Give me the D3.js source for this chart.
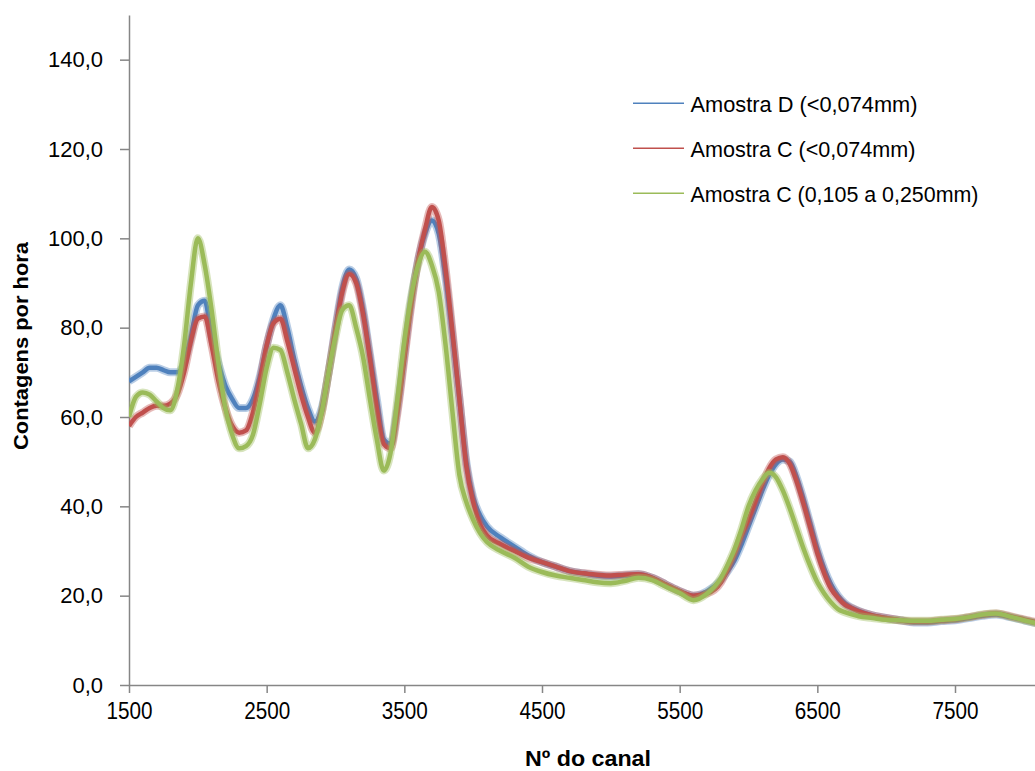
<!DOCTYPE html>
<html>
<head>
<meta charset="utf-8">
<script src="https://cdn.jsdelivr.net/npm/d3@7"></script>
<style>
  html, body { margin: 0; padding: 0; background: #fff; }
  svg { display: block; }
</style>
</head>
<body>
<div id="chart"></div>
<script>
// ---- Data ----
const channels = [
  1500,1550,1600,1650,1700,1750,1800,1850,1900,1950,
  2000,2050,2100,2150,2200,2250,2300,2350,2400,2450,
  2500,2550,2600,2650,2700,2750,2800,2850,2900,2950,
  3000,3050,3100,3150,3200,3250,3300,3350,3400,3450,
  3500,3550,3600,3650,3700,3750,3800,3850,3900,3950,
  4000,4050,4100,
  4200,4300,4400,4500,4600,4700,4800,4900,5000,5100,
  5200,5300,5400,5500,5600,5700,5800,
  5850,5900,5950,6000,6050,6100,6150,6200,6250,6300,
  6350,6400,6450,6500,6550,6600,6650,6700,6750,6800,
  6900,7000,7100,7200,7300,7400,7500,7600,7700,7800,
  7900,8000,8100,8200
];

const amostraD = [
  68,69,70,71,71,70.5,70,70,72,78,
  85,86,78,72,67,64,62,62,64,69,
  76,82,85,80,73,67,62,59,62,70,
  80,89,93,91,84,74,64,55,54,62,
  74,86,95,101,104,101,91,78,64,50,
  42,38,35.5,
  33,31,29,27.5,26.5,25.5,25,24.5,24.3,24.5,
  24.8,24,22.5,21,20,21,23.5,
  25.5,28,31.5,35.5,39.5,43.5,47,49.5,50.5,50,
  46.5,41.5,36,30.5,26,22.5,20,18.3,17.3,16.6,
  15.6,15,14.5,14,14,14.3,14.5,15,15.5,15.8,
  15.2,14.5,13.8,13.3
];

const amostraC = [
  58,60,61,62,62.5,62.5,63,65,70,77,
  82,82.5,76,68,62,58,56.5,57,61,68,
  76,81,82,77,71,65,60,56.5,61,70,
  79.5,88,92,90,83,73,62,54,53,61,
  73,85,95,102,107,104,93,79,64,49,
  41,36,33.5,
  31.5,30,28.5,27.5,26.5,25.5,25,24.7,24.5,24.7,
  24.8,24,22.5,21,20,20.5,23,
  26,29.5,33.5,37,41,45,48.5,50.5,51,49.5,
  45.5,40.5,35,29.5,25,21.5,19.5,18,17.2,16.5,
  15.6,15,14.5,14.2,14.2,14.5,14.7,15.2,15.7,16,
  15.4,14.7,14,13.5
];

const amostraCGrossa = [
  60,64.5,65.5,65,63.5,62,61.5,66,76,90,
  100,94,84,72,62,56,53,53.5,56,63,
  71,75.5,75,70,64,58.5,53,55,61,70,
  78,84,85,80,73.5,64,55,48,52,64,
  77,87,94,97,94,88,76,61,47,41,
  37,34,32,
  30,28.5,26.5,25.3,24.5,24,23.5,23,22.8,23.3,
  24,23.5,22,20.6,19,20.5,24,
  27,30.5,35,40,43.5,46,47.5,46.5,43.5,39.5,
  35,30.5,26.5,23,20.5,18.5,17,16.3,15.8,15.4,
  15,14.6,14.5,14.4,14.4,14.6,14.8,15.2,15.8,16,
  15.3,14.5,13.8,13.3
];

const seriesNames = ["Amostra D (<0,074mm)", "Amostra C (<0,074mm)", "Amostra C (0,105 a 0,250mm)"];
const seriesColors = ["#4F81BD", "#C0504D", "#9BBB59"];
const yTicks = [0,20,40,60,80,100,120,140];
const xTicks = [1500,2500,3500,4500,5500,6500,7500];

// ---- Layout ----
const W = 1035, H = 771;
const svg = d3.select("#chart").append("svg").attr("width", W).attr("height", H);
svg.append("rect").attr("width", W).attr("height", H).attr("fill", "#fff");

const x = d3.scaleLinear().domain([1500, 8192]).range([129, 129 + 6692 * (826 / 6000)]);
const y = d3.scaleLinear().domain([0, 150]).range([685, 15]);

svg.append("defs").append("clipPath").attr("id", "clip")
  .append("rect").attr("x", 129).attr("y", 0).attr("width", W - 129).attr("height", 685);

const FONT = "'Liberation Sans', Arial, sans-serif";
const axisColor = "#868686";

// Y axis
const yAxis = svg.append("g").attr("transform", "translate(129,0)")
  .call(d3.axisLeft(y).tickValues(yTicks).tickSize(9).tickSizeOuter(0).tickPadding(17)
        .tickFormat(d => d3.format(".1f")(d).replace(".", ",")));
yAxis.select(".domain").attr("stroke", axisColor).attr("stroke-width", 1.5);
yAxis.selectAll(".tick line").attr("stroke", axisColor).attr("stroke-width", 1.5);
yAxis.selectAll(".tick text").attr("font-family", FONT).attr("font-size", 22).attr("fill", "#000");

// X axis
const xAxis = svg.append("g").attr("transform", "translate(0,685)")
  .call(d3.axisBottom(x).tickValues(xTicks).tickSize(8).tickSizeOuter(0).tickPadding(10)
        .tickFormat(d3.format("d")));
xAxis.select(".domain").attr("stroke", axisColor).attr("stroke-width", 1.5);
xAxis.selectAll(".tick line").attr("stroke", axisColor).attr("stroke-width", 1.5);
xAxis.selectAll(".tick text").attr("font-family", FONT).attr("font-size", 23).attr("fill", "#000")
  .attr("textLength", 46).attr("lengthAdjust", "spacingAndGlyphs");

// Lines
const allSeries = [amostraD, amostraC, amostraCGrossa];
const line = d3.line()
  .x((d, i) => x(channels[i]))
  .y(d => y(d))
  .curve(d3.curveMonotoneX);

const plot = svg.append("g").attr("clip-path", "url(#clip)");
allSeries.forEach((vals, k) => {
  plot.append("path").datum(vals).attr("d", line)
    .attr("fill", "none").attr("stroke", seriesColors[k])
    .attr("stroke-width", 8).attr("stroke-opacity", 0.4).attr("stroke-linejoin", "round");
  plot.append("path").datum(vals).attr("d", line)
    .attr("fill", "none").attr("stroke", seriesColors[k])
    .attr("stroke-width", 4.5).attr("stroke-linejoin", "round");
});

// Axis titles
svg.append("text").attr("x", 588).attr("y", 766)
  .attr("text-anchor", "middle").attr("font-family", FONT).attr("font-weight", "bold")
  .attr("font-size", 22).attr("fill", "#000")
  .attr("textLength", 126).attr("lengthAdjust", "spacingAndGlyphs")
  .text("Nº do canal");

svg.append("text").attr("transform", "translate(28,346) rotate(-90)")
  .attr("text-anchor", "middle").attr("font-family", FONT).attr("font-weight", "bold")
  .attr("font-size", 20).attr("fill", "#000")
  .attr("textLength", 208).attr("lengthAdjust", "spacingAndGlyphs")
  .text("Contagens por hora");

// Legend
const legendWidths = [227, 225, 288];
const legend = svg.append("g");
seriesNames.forEach((name, k) => {
  const ly = 103.3 + k * 45;
  legend.append("line").attr("x1", 633).attr("x2", 684).attr("y1", ly).attr("y2", ly)
    .attr("stroke", seriesColors[k]).attr("stroke-width", 1.5);
  legend.append("text").attr("x", 690.5).attr("y", ly + 8.3)
    .attr("font-family", FONT).attr("font-size", 22).attr("fill", "#000")
    .attr("textLength", legendWidths[k]).attr("lengthAdjust", "spacingAndGlyphs")
    .text(name);
});
</script>
</body>
</html>
